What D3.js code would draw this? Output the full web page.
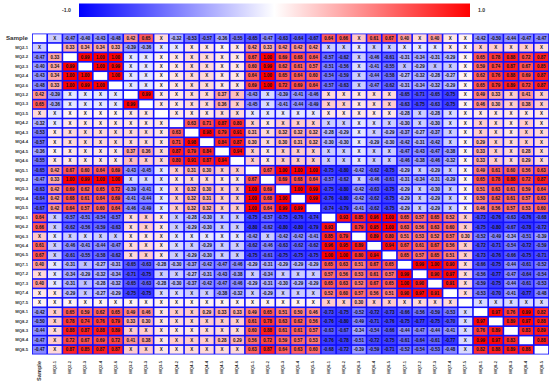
<!DOCTYPE html>
<html>
<head>
<meta charset="utf-8">
<title>correlation heatmap</title>
<script src="https://cdn.jsdelivr.net/npm/d3@7"></script>
<style>
	body, html {
		margin: 0;
		padding: 0;
		background: #fff;
	}
	svg text {
		font-family: "Liberation Sans", Arial, sans-serif;
	}
</style>
</head>
<body>
<svg id="chart" width="550" height="386"></svg>
<script>
	var labels = ["Sample", "MQ2-1", "MQ2-2", "MQ2-3", "MQ2-4", "MQ2-6", "MQ3-2", "MQ3-3", "MQ3-5",
		"MQ4-2", "MQ4-3", "MQ4-4", "MQ4-5", "MQ4-6", "MQ5-1", "MQ5-2", "MQ5-3", "MQ5-4", "MQ5-5",
		"MQ6-1", "MQ6-2", "MQ6-3", "MQ6-4", "MQ6-5", "MQ7-1", "MQ7-2", "MQ7-3", "MQ7-4", "MQ7-5",
		"MQ8-1", "MQ8-2", "MQ8-3", "MQ8-4", "MQ8-5"];

	// upper triangle, row i holds r(i, j) for j > i
	var upper = [
		[-0.2, -0.47, -0.40, -0.43, -0.48, 0.42, 0.65, 0.15, -0.32, -0.53, -0.57, -0.36, -0.55, -0.65, -0.47, -0.63, -0.64, -0.67, 0.64, 0.66, 0.22, 0.61, 0.67, 0.40, 0.15, 0.40, 0.1, 0.05, -0.42, -0.50, -0.44, -0.47, -0.47],
		[0.33, 0.34, 0.34, 0.33, -0.39, -0.36, -0.1, -0.1, 0.1, 0.1, 0.05, 0.1, 0.42, 0.33, 0.42, 0.42, 0.42, -0.2, -0.2, -0.1, -0.2, -0.2, -0.1, -0.1, -0.1, 0.1, 0.05, 0.2, 0.2, 0.15, 0.2, 0.15],
		[0.99, 1.00, 1.00, -0.1, -0.1, 0.05, 0.1, 0.15, 0.15, 0.1, 0.1, 0.67, 1.00, 0.69, 0.68, 0.64, -0.57, -0.62, -0.2, -0.46, -0.61, -0.31, -0.34, -0.31, -0.29, 0.05, 0.65, 0.78, 0.88, 0.72, 0.87],
		[1.00, 0.99, -0.1, -0.1, 0.05, 0.1, 0.15, 0.15, 0.1, 0.1, 0.60, 0.99, 0.62, 0.61, 0.57, -0.51, -0.56, -0.15, -0.41, -0.55, -0.25, -0.29, -0.25, -0.22, 0.05, 0.59, 0.74, 0.87, 0.67, 0.85],
		[1.00, -0.1, -0.1, 0.05, 0.1, 0.15, 0.15, 0.1, 0.1, 0.64, 1.00, 0.65, 0.64, 0.60, -0.54, -0.59, -0.2, -0.44, -0.58, -0.27, -0.32, -0.28, -0.27, 0.05, 0.62, 0.76, 0.88, 0.69, 0.87],
		[-0.1, -0.1, 0.05, 0.1, 0.15, 0.15, 0.1, 0.1, 0.69, 1.00, 0.72, 0.69, 0.64, -0.57, -0.63, -0.2, -0.47, -0.62, -0.31, -0.34, -0.32, -0.29, 0.05, 0.65, 0.79, 0.89, 0.72, 0.87],
		[0.99, 0.1, 0.1, 0.15, 0.15, 0.37, 0.25, -0.43, -0.15, -0.39, -0.41, -0.46, 0.15, 0.15, 0.1, 0.15, 0.15, -0.65, -0.71, -0.65, -0.75, 0.05, 0.49, 0.33, 0.2, 0.41, 0.2],
		[0.1, 0.1, 0.15, 0.15, 0.36, 0.2, -0.45, -0.15, -0.41, -0.44, -0.49, 0.2, 0.2, 0.1, 0.15, 0.2, -0.63, -0.75, -0.63, -0.75, 0.05, 0.46, 0.30, 0.2, 0.38, 0.2],
		[0.1, 0.1, 0.1, 0.15, 0.15, -0.1, -0.1, -0.1, -0.1, -0.1, 0.1, 0.1, 0.1, 0.1, 0.1, -0.28, -0.2, -0.28, -0.15, 0.05, 0.1, 0.1, 0.1, 0.1, 0.1],
		[0.63, 0.71, 0.87, 0.80, 0.2, 0.1, 0.2, 0.2, 0.2, -0.2, -0.2, -0.1, -0.15, -0.2, -0.30, -0.2, -0.30, -0.15, 0.05, 0.2, 0.15, 0.1, 0.2, 0.1],
		[0.98, 0.79, 0.91, 0.31, 0.15, 0.32, 0.32, 0.32, -0.28, -0.29, -0.1, -0.2, -0.29, -0.37, -0.27, -0.37, -0.2, 0.05, 0.2, 0.15, 0.1, 0.2, 0.15],
		[0.84, 0.87, 0.30, 0.15, 0.30, 0.31, 0.32, -0.30, -0.30, -0.1, -0.29, -0.30, -0.42, -0.31, -0.42, -0.2, 0.05, 0.29, 0.2, 0.15, 0.2, 0.15],
		[0.94, 0.2, 0.1, 0.2, 0.2, 0.2, -0.2, -0.2, -0.1, -0.2, -0.2, -0.47, -0.43, -0.47, -0.38, 0.05, 0.33, 0.2, 0.15, 0.28, 0.15],
		[0.2, 0.1, 0.2, 0.2, 0.2, -0.2, -0.2, -0.1, -0.2, -0.2, -0.46, -0.38, -0.46, -0.32, 0.05, 0.33, 0.2, 0.15, 0.29, 0.15],
		[0.67, 1.00, 1.00, 1.00, -0.75, -0.80, -0.42, -0.62, -0.75, -0.29, -0.2, -0.29, -0.2, 0.05, 0.49, 0.61, 0.60, 0.56, 0.63],
		[0.69, 0.68, 0.64, -0.57, -0.62, -0.2, -0.46, -0.61, -0.31, -0.34, -0.31, -0.29, 0.05, 0.65, 0.78, 0.88, 0.72, 0.87],
		[1.00, 0.99, -0.75, -0.80, -0.42, -0.63, -0.75, -0.29, -0.2, -0.30, -0.2, 0.05, 0.51, 0.63, 0.61, 0.59, 0.64],
		[0.99, -0.76, -0.80, -0.42, -0.62, -0.75, -0.29, -0.2, -0.29, -0.2, 0.05, 0.50, 0.62, 0.61, 0.57, 0.63],
		[-0.74, -0.79, -0.41, -0.62, -0.75, -0.29, -0.2, -0.29, -0.2, 0.05, 0.46, 0.56, 0.57, 0.53, 0.60],
		[0.93, 0.85, 0.96, 1.00, 0.65, 0.57, 0.65, 0.52, 0.2, -0.73, -0.76, -0.63, -0.76, -0.68],
		[0.79, 0.95, 1.00, 0.63, 0.56, 0.63, 0.60, 0.2, -0.75, -0.80, -0.67, -0.78, -0.72],
		[0.89, 0.80, 0.51, 0.53, 0.52, 0.57, 0.30, -0.52, -0.49, -0.34, -0.51, -0.39],
		[0.94, 0.67, 0.61, 0.67, 0.56, 0.2, -0.72, -0.71, -0.54, -0.72, -0.59],
		[0.65, 0.57, 0.65, 0.51, 0.2, -0.73, -0.76, -0.66, -0.75, -0.71],
		[0.99, 1.00, 0.90, 0.15, -0.66, -0.75, -0.44, -0.61, -0.52],
		[0.90, 0.97, 0.15, -0.56, -0.77, -0.47, -0.64, -0.54],
		[0.91, 0.15, -0.59, -0.75, -0.44, -0.61, -0.53],
		[0.15, -0.53, -0.70, -0.41, -0.77, -0.48],
		[-0.15, -0.15, -0.15, -0.15, -0.15],
		[0.97, 0.76, 0.99, 0.82],
		[0.89, 0.97, 0.88],
		[0.83, 0.89],
		[0.88]
	];

	var scaleTicks = [-1.0, 1.0];
	var minShown = 0.265; // below this |r| the cell is marked X

	var svg = d3.select('#chart');
	var n = labels.length;

	var cells = [];
	for (var i = 0; i < n; i += 1) {
		for (var j = 0; j < n; j += 1) {
			var v;
			if (i == j) {
				v = null;
			} else if (j > i) {
				v = upper[i][j - i - 1];
			} else {
				v = upper[j][i - j - 1];
			}
			cells.push({row: labels[i], col: labels[j], v: v});
		}
	}

	var x = d3.scaleBand().domain(labels).range([32, 549]);
	var y = d3.scaleBand().domain(labels).range([33.5, 354.5]);
	var color = d3.scaleLinear().domain([-1, 0, 1]).range(['#0000ff', '#ffffff', '#ff0000']);

	// colour bar
	var barX = d3.scaleLinear().domain([-1, 1]).range([79, 470]);
	var grad = svg.append('defs').append('linearGradient').attr('id', 'bar');
	d3.range(-1, 1.001, 0.25).forEach(function (t) {
		grad.append('stop')
			.attr('offset', ((t + 1) / 2 * 100) + '%')
			.attr('stop-color', color(t));
	});
	svg.append('rect')
		.attr('x', barX(-1)).attr('y', 3.5)
		.attr('width', barX(1) - barX(-1)).attr('height', 13.5)
		.attr('fill', 'url(#bar)');
	svg.selectAll('.bar-label')
		.data(scaleTicks)
		.enter().append('text')
		.attr('class', 'bar-label')
		.attr('x', function (d) { return d < 0 ? barX(d) - 8 : barX(d) + 8; })
		.attr('y', 10.5)
		.attr('text-anchor', function (d) { return d < 0 ? 'end' : 'start'; })
		.attr('dominant-baseline', 'middle')
		.attr('font-size', 5.2)
		.attr('font-weight', 'bold')
		.attr('fill', '#333')
		.text(function (d) { return d.toFixed(1); });

	// grid
	svg.append('rect')
		.attr('x', x.range()[0]).attr('y', y.range()[0])
		.attr('width', x.range()[1] - x.range()[0])
		.attr('height', y.range()[1] - y.range()[0])
		.attr('fill', '#1010ff');

	var g = svg.append('g');
	var cell = g.selectAll('g.cell')
		.data(cells)
		.enter().append('g')
		.attr('class', 'cell');

	cell.append('rect')
		.attr('x', function (d) { return x(d.col) + 0.8; })
		.attr('y', function (d) { return y(d.row) + 0.8; })
		.attr('width', x.bandwidth() - 1.6)
		.attr('height', y.bandwidth() - 1.6)
		.attr('fill', function (d) { return d.v === null ? '#ffffff' : color(d.v); });

	cell.filter(function (d) { return d.v !== null; })
		.append('text')
		.attr('x', function (d) { return x(d.col) + x.bandwidth() / 2; })
		.attr('y', function (d) { return y(d.row) + y.bandwidth() / 2 + 0.3; })
		.attr('text-anchor', 'middle')
		.attr('dominant-baseline', 'middle')
		.attr('font-size', 4.5)
		.attr('font-weight', 'bold')
		.attr('fill', '#111')
		.text(function (d) { return Math.abs(d.v) < minShown ? 'X' : d.v.toFixed(2); });

	// row labels
	svg.selectAll('.row-label')
		.data(labels)
		.enter().append('text')
		.attr('class', 'row-label')
		.attr('x', 28)
		.attr('y', function (d) { return y(d) + y.bandwidth() / 2; })
		.attr('text-anchor', 'end')
		.attr('dominant-baseline', 'middle')
		.attr('font-size', function (d) { return d == 'Sample' ? 6.2 : 4.2; })
		.attr('font-weight', 'bold')
		.attr('fill', '#333')
		.text(function (d) { return d; });

	// column labels
	svg.selectAll('.col-label')
		.data(labels)
		.enter().append('text')
		.attr('class', 'col-label')
		.attr('transform', function (d) { return 'translate(' + (x(d) + x.bandwidth() / 2) + ',361) rotate(-90)'; })
		.attr('text-anchor', 'end')
		.attr('dominant-baseline', 'middle')
		.attr('font-size', function (d) { return d == 'Sample' ? 5.6 : 4.2; })
		.attr('font-weight', 'bold')
		.attr('fill', '#333')
		.text(function (d) { return d; });
</script>
</body>
</html>
